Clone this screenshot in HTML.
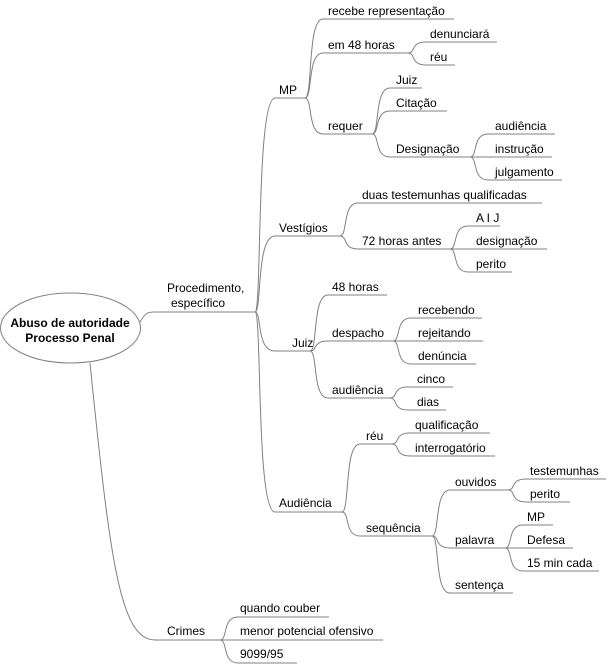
<!DOCTYPE html>
<html><head><meta charset="utf-8"><style>
html,body{margin:0;padding:0;background:#fff}
svg{display:block}
text{font-family:"Liberation Sans",Arial,sans-serif;font-size:12px;fill:#000}
path{fill:none;stroke:#808080;stroke-width:1}
</style></head><body>
<svg width="609" height="664" viewBox="0 0 609 664">
<ellipse cx="70.5" cy="328" rx="70" ry="35" fill="#fff" stroke="#808080"/>
<text x="70" y="327" text-anchor="middle" font-weight="bold">Abuso de autoridade</text>
<text x="70" y="342" text-anchor="middle" font-weight="bold">Processo Penal</text>
<!-- Procedimento -->
<path d="M140 322 C146 312,148 312,155 312 L255 312"/>
<text x="167" y="292">Procedimento,</text>
<text x="171" y="307">específico</text>
<!-- Crimes -->
<path d="M90 363 C110 560,120 640,155 640 L220 640"/>
<text x="167" y="635">Crimes</text>
<path d="M220 640 C228 640,222 617,238 617 L329 617"/>
<path d="M220 640 L383 640"/>
<path d="M220 640 C228 640,222 663,238 663 L297 663"/>
<text x="240" y="612">quando couber</text>
<text x="240" y="635">menor potencial ofensivo</text>
<text x="240" y="658">9099/95</text>
<!-- top level -->
<path d="M255 312 C262 312,256 98,275 98 L305 98"/>
<path d="M255 312 C262 312,256 236,275 236 L340 236"/>
<path d="M255 312 C262 312,256 351,275 351 L310 351"/>
<path d="M255 312 C262 312,256 512,275 512 L342 512"/>
<text x="279" y="94">MP</text>
<text x="279" y="232">Vestígios</text>
<text x="292" y="347">Juiz</text>
<text x="279" y="507">Audiência</text>
<!-- MP children -->
<path d="M305 98 C313 98,307 19,323 19 L454 19"/>
<path d="M305 98 C313 98,307 53,323 53 L408 53"/>
<path d="M305 98 C313 98,307 134,323 134 L372 134"/>
<text x="328" y="15">recebe representação</text>
<text x="328" y="49">em 48 horas</text>
<text x="328" y="130">requer</text>
<path d="M408 53 C416 53,410 42,426 42 L497 42"/>
<path d="M408 53 C416 53,410 65,426 65 L455 65"/>
<text x="430" y="38">denunciará</text>
<text x="430" y="61">réu</text>
<path d="M372 134 C380 134,374 88,390 88 L422 88"/>
<path d="M372 134 C380 134,374 111,390 111 L447 111"/>
<path d="M372 134 C380 134,374 157,390 157 L470 157"/>
<text x="396" y="84">Juiz</text>
<text x="396" y="107">Citação</text>
<text x="396" y="153">Designação</text>
<path d="M470 157 C478 157,472 134,488 134 L555 134"/>
<path d="M470 157 L552 157"/>
<path d="M470 157 C478 157,472 180,488 180 L562 180"/>
<text x="495" y="130">audiência</text>
<text x="495" y="153">instrução</text>
<text x="495" y="176">julgamento</text>
<!-- Vestigios -->
<path d="M340 236 C348 236,342 203,358 203 L542 203"/>
<path d="M340 236 C348 236,342 249,358 249 L450 249"/>
<text x="362" y="199">duas testemunhas qualificadas</text>
<text x="362" y="245">72 horas antes</text>
<path d="M450 249 C458 249,452 226,468 226 L500 226"/>
<path d="M450 249 L547 249"/>
<path d="M450 249 C458 249,452 272,468 272 L512 272"/>
<text x="476" y="222">A I J</text>
<text x="476" y="245">designação</text>
<text x="476" y="268">perito</text>
<!-- Juiz -->
<path d="M310 351 C318 351,312 295,328 295 L387 295"/>
<path d="M310 351 C318 351,312 341,328 341 L393 341"/>
<path d="M310 351 C318 351,312 398,328 398 L390 398"/>
<text x="332" y="291">48 horas</text>
<text x="332" y="337">despacho</text>
<text x="332" y="394">audiência</text>
<path d="M393 341 C401 341,395 318,411 318 L482 318"/>
<path d="M393 341 L483 341"/>
<path d="M393 341 C401 341,395 364,411 364 L476 364"/>
<text x="418" y="314">recebendo</text>
<text x="418" y="337">rejeitando</text>
<text x="418" y="360">denúncia</text>
<path d="M390 398 C398 398,392 387,408 387 L453 387"/>
<path d="M390 398 C398 398,392 410,408 410 L446 410"/>
<text x="417" y="383">cinco</text>
<text x="417" y="406">dias</text>
<!-- Audiencia -->
<path d="M342 512 C350 512,344 444,360 444 L392 444"/>
<path d="M342 512 C350 512,344 536,360 536 L432 536"/>
<text x="366" y="440">réu</text>
<text x="366" y="532">sequência</text>
<path d="M392 444 C400 444,394 433,410 433 L490 433"/>
<path d="M392 444 C400 444,394 456,410 456 L495 456"/>
<text x="415" y="429">qualificação</text>
<text x="415" y="452">interrogatório</text>
<path d="M432 536 C440 536,434 490,450 490 L508 490"/>
<path d="M432 536 C440 536,434 548,450 548 L505 548"/>
<path d="M432 536 C440 536,434 593,450 593 L513 593"/>
<text x="455" y="486">ouvidos</text>
<text x="455" y="544">palavra</text>
<text x="455" y="589">sentença</text>
<path d="M508 490 C516 490,510 479,526 479 L606 479"/>
<path d="M508 490 C516 490,510 502,526 502 L570 502"/>
<text x="530" y="475">testemunhas</text>
<text x="530" y="498">perito</text>
<path d="M505 548 C513 548,507 525,523 525 L553 525"/>
<path d="M505 548 L573 548"/>
<path d="M505 548 C513 548,507 571,523 571 L599 571"/>
<text x="527" y="521">MP</text>
<text x="527" y="544">Defesa</text>
<text x="527" y="567">15 min cada</text>
</svg>
</body></html>
